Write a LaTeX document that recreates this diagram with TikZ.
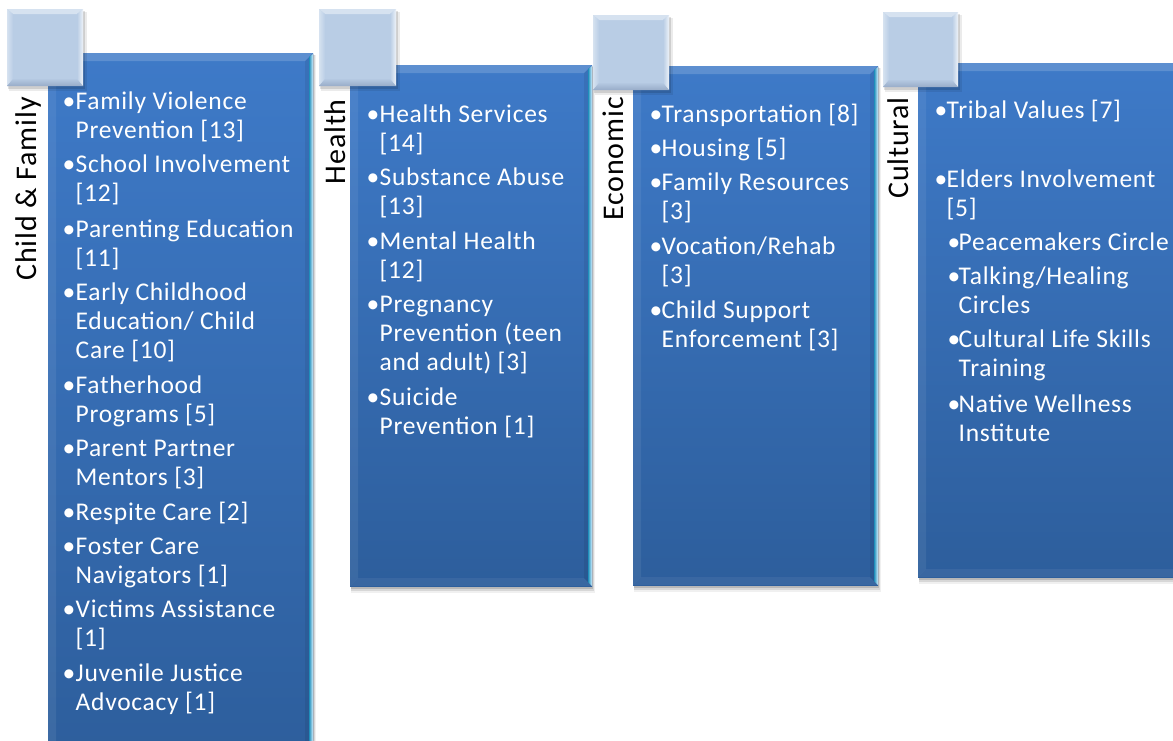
\documentclass[tikz,border=0pt]{standalone}
\usepackage{fontspec}
\setmainfont{Carlito}[LetterSpace=2.8]
\definecolor{bxtop}{RGB}{62,122,200}
\definecolor{bxbot}{RGB}{45,94,156}
\definecolor{edgehl}{RGB}{215,240,255}
\definecolor{sqface}{RGB}{185,205,229}
\definecolor{sqtop}{RGB}{214,226,240}
\definecolor{sqbot}{RGB}{152,172,200}
\definecolor{sqside}{RGB}{200,216,236}
\newcommand\bluebox[4]{%
  \fill[black,opacity=0.06] (#1+1,#2+2) rectangle (#3+3,#4+7);
  \fill[black,opacity=0.10] (#1+1,#2+2) rectangle (#3+2,#4+5);
  \fill[black,opacity=0.14] (#1+1,#2+1) rectangle (#3+1,#4+3);
  \shade[top color=bxtop,bottom color=bxbot] (#1,#2) rectangle (#3,#4);
  \fill[white,opacity=0.16] (#1,#2) -- (#3,#2) -- (#3-8,#2+8) -- (#1+8,#2+8) -- cycle;
  \fill[white,opacity=0.07] (#1,#2) -- (#1+8,#2+8) -- (#1+8,#4-8) -- (#1,#4) -- cycle;
  \fill[black,opacity=0.07] (#3,#2) -- (#3,#4) -- (#3-8,#4-8) -- (#3-8,#2+8) -- cycle;
  \shade[left color=bxbot!70!cyan, right color=edgehl] (#3-4,#2+4) -- (#3,#2+1) -- (#3,#4) -- (#3-4,#4-4) -- cycle;
  \fill[white,opacity=0.06] (#1,#4) -- (#3,#4) -- (#3-8,#4-8) -- (#1+8,#4-8) -- cycle;
}
\newcommand\sqbox[4]{%
  \fill[black,opacity=0.08] (#1+2,#2+3) rectangle (#3+4,#4+5);
  \fill[black,opacity=0.12] (#1+1,#2+2) rectangle (#3+2,#4+3);
  \fill[sqface] (#1,#2) rectangle (#3,#4);
  \fill[sqtop] (#1,#2) -- (#3,#2) -- (#3-6,#2+5) -- (#1+6,#2+5) -- cycle;
  \shade[left color=sqtop, right color=sqface] (#1,#2) -- (#1+6,#2+5) -- (#1+6,#4-7) -- (#1,#4) -- cycle;
  \shade[left color=sqface, right color=white!75!sqface] (#3,#2) -- (#3,#4) -- (#3-6,#4-7) -- (#3-6,#2+5) -- cycle;
  \shade[top color=sqface!85!sqbot, bottom color=sqbot] (#1,#4) -- (#3,#4) -- (#3-6,#4-7) -- (#1+6,#4-7) -- cycle;
}
\newcommand\B{\makebox[12pt][l]{\hspace{-1pt}•}}
\newcommand\Bs{\makebox[11pt][l]{\hspace{-1pt}•}}
\newcommand\Bt{\makebox[10pt][l]{\hspace{-1pt}•}}
\newcommand\itx[1]{\begin{tabular}[t]{@{}l@{}l@{}}#1\end{tabular}}
\begin{document}
\begin{tikzpicture}[x=1pt,y=-1pt,
  itm/.style={anchor=base west, text=white, inner sep=0pt, font=\fontsize{25.5}{29}\selectfont},
  lbl/.style={rotate=90, anchor=base east, inner sep=0pt, text=black, font=\fontsize{30}{36}\selectfont}]
\useasboundingbox (0,0) rectangle (1173,740);
\clip (0,0) rectangle (1173,740);
\fill[white] (0,0) rectangle (1173,740);
% boxes
\bluebox{48}{53}{313}{760}
\bluebox{350}{65}{592}{586}
\bluebox{633}{66}{878}{585}
\bluebox{918}{63}{1200}{577}
\sqbox{7}{9}{83}{86}
\sqbox{319}{9}{396}{86}
\sqbox{593}{15}{669}{90}
\sqbox{883}{12}{958}{87}
% labels
\node[lbl] (lcf) at (36,97) {Child \& Family};
\node[lbl] (lhe) at (345,99) {Health};
\node[lbl] (lec) at (623,97) {Economic};
\node[lbl] (lcu) at (908,97) {Cultural};
% Child & Family
\node[itm] (c1) at (63.5,109) {\itx{\B&Family Violence\\&Prevention [13]}};
\node[itm] (c2) at (63.5,172) {\itx{\B&School Involvement\\&[12]}};
\node[itm] (c3) at (63.5,237) {\itx{\B&Parenting Education\\&[11]}};
\node[itm] (c4) at (63.5,300) {\itx{\B&Early Childhood\\&Education/ Child\\&Care [10]}};
\node[itm] (c5) at (63.5,393) {\itx{\B&Fatherhood\\&Programs [5]}};
\node[itm] (c6) at (63.5,456) {\itx{\B&Parent Partner\\&Mentors [3]}};
\node[itm] (c7) at (63.5,520) {\itx{\B&Respite Care [2]}};
\node[itm] (c8) at (63.5,554) {\itx{\B&Foster Care\\&Navigators [1]}};
\node[itm] (c9) at (63.5,617) {\itx{\B&Victims Assistance\\&[1]}};
\node[itm] (c10) at (63.5,681) {\itx{\B&Juvenile Justice\\&Advocacy [1]}};
% Health
\node[itm] (h1) at (367.5,122) {\itx{\B&Health Services\\&[14]}};
\node[itm] (h2) at (367.5,185) {\itx{\B&Substance Abuse\\&[13]}};
\node[itm] (h3) at (367.5,249) {\itx{\B&Mental Health\\&[12]}};
\node[itm] (h4) at (367.5,312) {\itx{\B&Pregnancy\\&Prevention (teen\\&and adult) [3]}};
\node[itm] (h5) at (367.5,405) {\itx{\B&Suicide\\&Prevention [1]}};
% Economic
\node[itm] (e1) at (650.5,122) {\itx{\Bs&Transportation [8]}};
\node[itm] (e2) at (650.5,156) {\itx{\Bs&Housing [5]}};
\node[itm] (e3) at (650.5,190) {\itx{\Bs&Family Resources\\&[3]}};
\node[itm] (e4) at (650.5,254) {\itx{\Bs&Vocation/Rehab\\&[3]}};
\node[itm] (e5) at (650.5,318) {\itx{\Bs&Child Support\\&Enforcement [3]}};
% Cultural
\node[itm] (u1) at (935.5,118) {\itx{\Bs&Tribal Values [7]}};
\node[itm] (u2) at (935.5,187) {\itx{\Bs&Elders Involvement\\&[5]}};
\node[itm] (u3) at (948.5,250) {\itx{\Bt&Peacemakers Circle}};
\node[itm] (u4) at (948.5,284) {\itx{\Bt&Talking/Healing\\&Circles}};
\node[itm] (u5) at (948.5,347) {\itx{\Bt&Cultural Life Skills\\&Training}};
\node[itm] (u6) at (948.5,412) {\itx{\Bt&Native Wellness\\&Institute}};
\end{tikzpicture}
\end{document}
